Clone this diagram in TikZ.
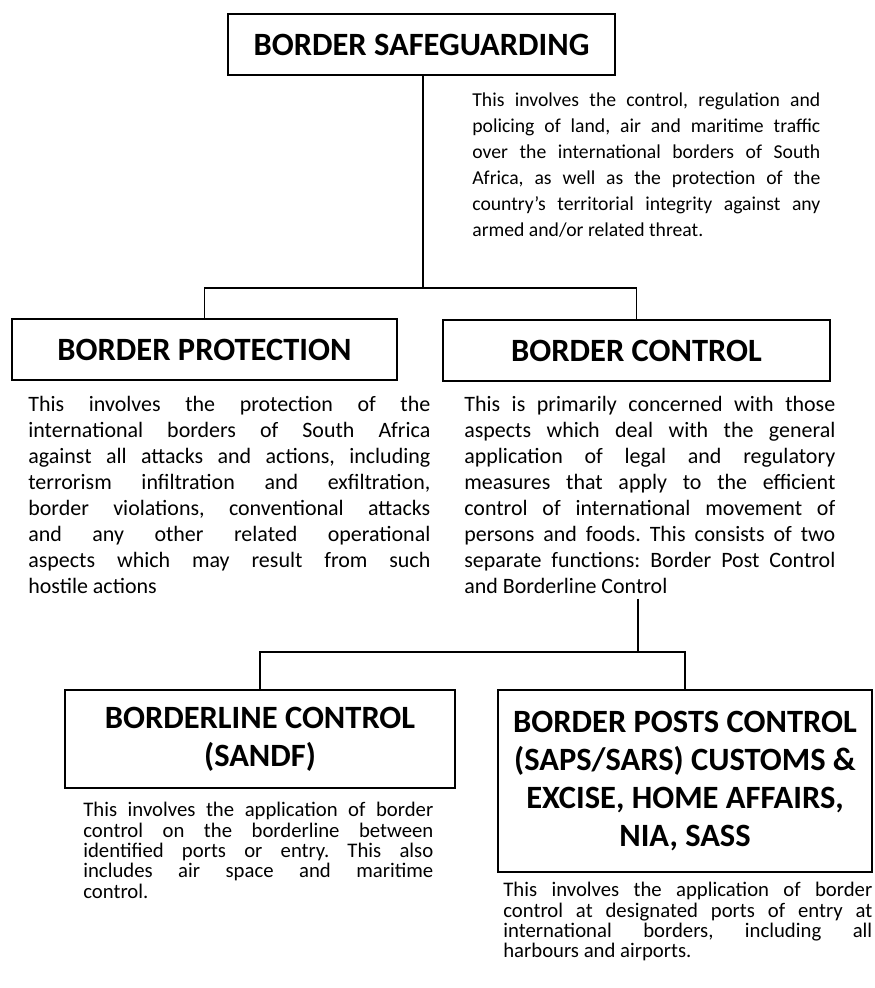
\documentclass[tikz,border=0pt]{standalone}
\usepackage{fontspec}
\setmainfont{Carlito}
\usepackage{tikz}
\usetikzlibrary{positioning, calc}
\frenchspacing

\begin{document}
\begin{tikzpicture}[
  head/.style={draw=black, line width=1pt, minimum width=7.74cm,
               minimum height=1.22cm, align=center, inner sep=2pt,
               font=\fontsize{18.5}{21.5}\selectfont\bfseries},
  desc/.style={anchor=north west, inner sep=0pt, align=justify,
               font=\fontsize{12.5}{14.8}\selectfont},
  desctop/.style={desc, font=\fontsize{11.2}{14.8}\selectfont},
  descsm/.style={desc, font=\fontsize{11.8}{11.6}\selectfont},
  link/.style={line width=0.7pt}
]
  \useasboundingbox (0,0) rectangle (17.48,-19.76);

  \node[head] (safe) at (8.43,-0.89) {BORDER SAFEGUARDING};
  \node[desctop, text width=6.96cm] (safetext) at (9.44,-1.84)
    {This involves the control, regulation and\linebreak
     policing of land, air and maritime traffic\linebreak
     over the international borders of South\linebreak
     Africa, as well as the protection of the\linebreak
     country's territorial integrity against any\linebreak
     armed and/or related threat.};

  \node[head, minimum width=7.70cm] (prot) at (4.09,-6.99) {BORDER PROTECTION};
  \node[desc, text width=8.04cm] (prottext) at (0.56,-7.91)
    {This involves the protection of the\linebreak
     international borders of South Africa\linebreak
     against all attacks and actions, including\linebreak
     terrorism infiltration and exfiltration,\linebreak
     border violations, conventional attacks\linebreak
     and any other related operational\linebreak
     aspects which may result from such\linebreak
     hostile actions};

  \node[head] (ctrl) at (12.73,-7.01) {BORDER CONTROL};
  \node[desc, text width=7.42cm] (ctrltext) at (9.28,-7.91)
    {This is primarily concerned with those\linebreak
     aspects which deal with the general\linebreak
     application of legal and regulatory\linebreak
     measures that apply to the efficient\linebreak
     control of international movement of\linebreak
     persons and foods. This consists of two\linebreak
     separate functions: Border Post Control\linebreak
     and Borderline Control};

  \node[head, minimum width=7.80cm, minimum height=1.96cm] (line) at (5.20,-14.78)
    {BORDERLINE CONTROL\\(SANDF)};
  \node[descsm, text width=7.00cm] (linetext) at (1.66,-16.04)
    {This involves the application of border\linebreak
     control on the borderline between\linebreak
     identified ports or entry. This also\linebreak
     includes air space and maritime\linebreak
     control.};

  \node[head, minimum width=7.48cm, minimum height=3.64cm] (posts) at (13.70,-15.62)
    {BORDER POSTS CONTROL\\(SAPS/SARS) CUSTOMS \&\\EXCISE, HOME AFFAIRS,\\NIA, SASS};
  \node[descsm, text width=7.38cm] (poststext) at (10.06,-17.64)
    {This involves the application of border\linebreak
     control at designated ports of entry at\linebreak
     international borders, including all\linebreak
     harbours and airports.};

  \coordinate (j1) at (8.46,-5.76);
  \coordinate (j2) at (12.76,-13.04);
  \draw[link] (safe.south -| j1) -- (j1);
  \draw[link] (j1) -| (prot.north);
  \draw[link] (j1) -| (ctrl.north);
  \draw[link] ([yshift=-0.1cm]ctrltext.south -| j2) -- (j2);
  \draw[link] (j2) -| (line.north);
  \draw[link] (j2) -| (posts.north);
\end{tikzpicture}
\end{document}
